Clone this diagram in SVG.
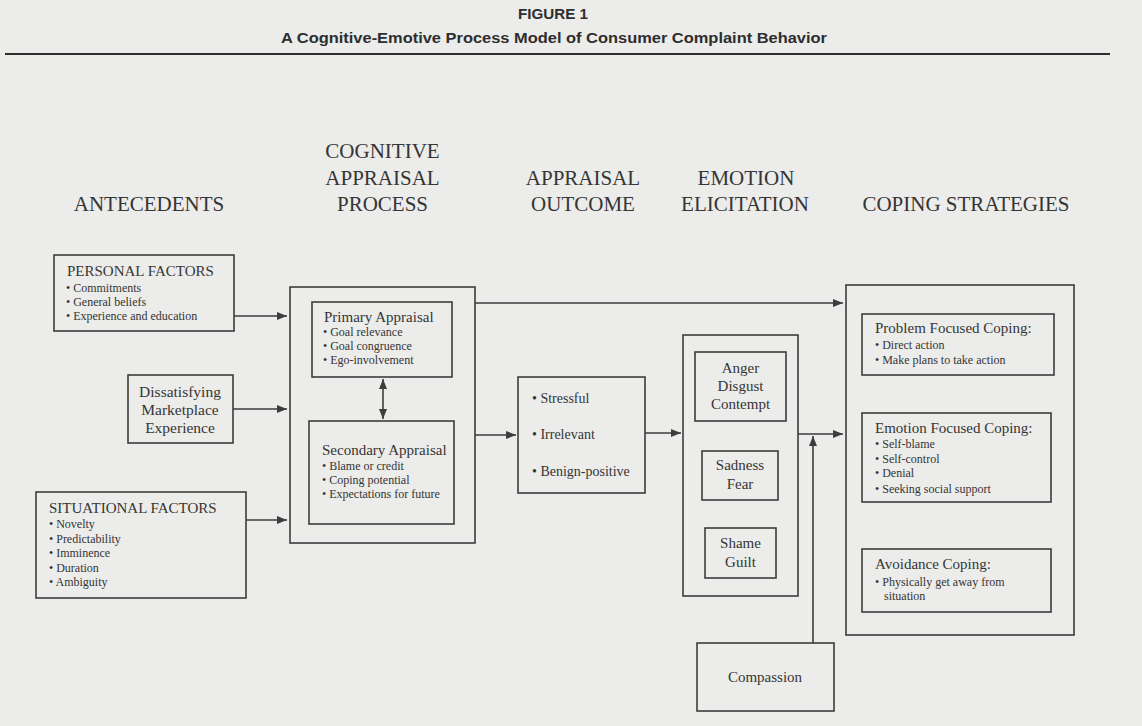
<svg xmlns="http://www.w3.org/2000/svg" width="1142" height="726" viewBox="0 0 1142 726">
<defs>
<style>
.bg{fill:#ececea}
.box{fill:none;stroke:#3d3d3d;stroke-width:1.6}
.ln{fill:none;stroke:#3d3d3d;stroke-width:1.6}
.t{font-family:"Liberation Serif","Times New Roman",serif;fill:#353535}
.hd{font-size:21px;text-anchor:middle}
.ttl{font-size:15px}
.b{font-size:12px}
.c{text-anchor:middle}
.fig{font-family:"Liberation Sans",Arial,sans-serif;font-weight:bold;fill:#2e2e2e;text-anchor:middle}
</style>
<marker id="ah" viewBox="0 0 10 8" refX="10" refY="4" markerWidth="10" markerHeight="8" markerUnits="userSpaceOnUse" orient="auto-start-reverse">
<path d="M0,0 L10,4 L0,8 z" fill="#3d3d3d"/>
</marker>
</defs>
<rect class="bg" x="0" y="0" width="1142" height="726"/>

<g id="title">
<text class="fig" x="553" y="19" font-size="15.5" textLength="70" lengthAdjust="spacingAndGlyphs">FIGURE 1</text>
<text class="fig" x="554" y="43" font-size="14.5" textLength="546" lengthAdjust="spacingAndGlyphs">A Cognitive-Emotive Process Model of Consumer Complaint Behavior</text>
<line x1="5" y1="54" x2="1110" y2="54" stroke="#2e2e2e" stroke-width="2"/>
</g>

<g id="headers" class="t hd">
<text x="149" y="211">ANTECEDENTS</text>
<text x="382.5" y="158">COGNITIVE</text>
<text x="382.5" y="185">APPRAISAL</text>
<text x="382.5" y="211">PROCESS</text>
<text x="583" y="185">APPRAISAL</text>
<text x="583" y="211">OUTCOME</text>
<text x="746" y="185">EMOTION</text>
<text x="745" y="211">ELICITATION</text>
<text x="966" y="211">COPING STRATEGIES</text>
</g>

<g id="personal-factors">
<rect class="box" x="54" y="255" width="180" height="76"/>
<text class="t ttl" x="67" y="276">PERSONAL FACTORS</text>
<text class="t b" x="66" y="292">• Commitments</text>
<text class="t b" x="66" y="306">• General beliefs</text>
<text class="t b" x="66" y="320">• Experience and education</text>
</g>

<g id="dissatisfying-experience">
<rect class="box" x="128" y="375" width="105" height="68"/>
<text class="t c" x="180" y="397" font-size="15.5">Dissatisfying</text>
<text class="t c" x="180" y="415" font-size="15.5">Marketplace</text>
<text class="t c" x="180" y="433" font-size="15.5">Experience</text>
</g>

<g id="situational-factors">
<rect class="box" x="36" y="492" width="210" height="106"/>
<text class="t ttl" x="49" y="513">SITUATIONAL FACTORS</text>
<text class="t b" x="49" y="528">• Novelty</text>
<text class="t b" x="49" y="543">• Predictability</text>
<text class="t b" x="49" y="557">• Imminence</text>
<text class="t b" x="49" y="572">• Duration</text>
<text class="t b" x="49" y="586">• Ambiguity</text>
</g>

<g id="cognitive-appraisal-process">
<rect class="box" x="290" y="287" width="185" height="256"/>
</g>

<g id="primary-appraisal">
<rect class="box" x="312" y="302" width="140" height="75"/>
<text class="t ttl" x="324" y="322">Primary Appraisal</text>
<text class="t b" x="323" y="336">• Goal relevance</text>
<text class="t b" x="323" y="350">• Goal congruence</text>
<text class="t b" x="323" y="364">• Ego-involvement</text>
</g>

<g id="secondary-appraisal">
<rect class="box" x="309" y="421" width="145" height="103"/>
<text class="t ttl" x="322" y="455">Secondary Appraisal</text>
<text class="t b" x="322" y="470">• Blame or credit</text>
<text class="t b" x="322" y="484">• Coping potential</text>
<text class="t b" x="322" y="498">• Expectations for future</text>
</g>

<g id="appraisal-outcome">
<rect class="box" x="518" y="377" width="127" height="116"/>
<text class="t" x="532" y="403" font-size="14">• Stressful</text>
<text class="t" x="532" y="439" font-size="14">• Irrelevant</text>
<text class="t" x="532" y="476" font-size="14">• Benign-positive</text>
</g>

<g id="emotion-elicitation">
<rect class="box" x="683" y="335" width="115" height="261"/>
</g>

<g id="anger-disgust-contempt">
<rect class="box" x="695" y="352" width="91" height="69"/>
<text class="t ttl c" x="740.5" y="373">Anger</text>
<text class="t ttl c" x="740.5" y="391">Disgust</text>
<text class="t ttl c" x="740.5" y="409">Contempt</text>
</g>

<g id="sadness-fear">
<rect class="box" x="702" y="451" width="76" height="49"/>
<text class="t ttl c" x="740" y="470">Sadness</text>
<text class="t ttl c" x="740" y="489">Fear</text>
</g>

<g id="shame-guilt">
<rect class="box" x="705" y="528" width="71" height="50"/>
<text class="t ttl c" x="740.5" y="548">Shame</text>
<text class="t ttl c" x="740.5" y="567">Guilt</text>
</g>

<g id="compassion">
<rect class="box" x="697" y="643" width="137" height="68"/>
<text class="t ttl c" x="765" y="682">Compassion</text>
</g>

<g id="coping-strategies">
<rect class="box" x="846" y="285" width="228" height="350"/>
</g>

<g id="problem-focused-coping">
<rect class="box" x="862" y="314" width="192" height="61"/>
<text class="t ttl" x="875" y="333">Problem Focused Coping:</text>
<text class="t b" x="875" y="349">• Direct action</text>
<text class="t b" x="875" y="364">• Make plans to take action</text>
</g>

<g id="emotion-focused-coping">
<rect class="box" x="862" y="413" width="189" height="89"/>
<text class="t ttl" x="875" y="433">Emotion Focused Coping:</text>
<text class="t b" x="875" y="448">• Self-blame</text>
<text class="t b" x="875" y="463">• Self-control</text>
<text class="t b" x="875" y="477">• Denial</text>
<text class="t b" x="875" y="493">• Seeking social support</text>
</g>

<g id="avoidance-coping">
<rect class="box" x="862" y="549" width="189" height="63"/>
<text class="t ttl" x="875" y="569">Avoidance Coping:</text>
<text class="t b" x="875" y="586">• Physically get away from</text>
<text class="t b" x="884" y="600">situation</text>
</g>

<g id="connectors">
<line class="ln" x1="234" y1="316" x2="287" y2="316" marker-end="url(#ah)"/>
<line class="ln" x1="233" y1="409" x2="287" y2="409" marker-end="url(#ah)"/>
<line class="ln" x1="246" y1="520" x2="287" y2="520" marker-end="url(#ah)"/>
<line class="ln" x1="383" y1="379" x2="383" y2="419" marker-start="url(#ah)" marker-end="url(#ah)"/>
<line class="ln" x1="475" y1="303" x2="843" y2="303" marker-end="url(#ah)"/>
<line class="ln" x1="475" y1="435" x2="516" y2="435" marker-end="url(#ah)"/>
<line class="ln" x1="645" y1="433" x2="681" y2="433" marker-end="url(#ah)"/>
<line class="ln" x1="798" y1="434" x2="843" y2="434" marker-end="url(#ah)"/>
<line class="ln" x1="813" y1="643" x2="813" y2="436" marker-end="url(#ah)"/>
</g>
</svg>
